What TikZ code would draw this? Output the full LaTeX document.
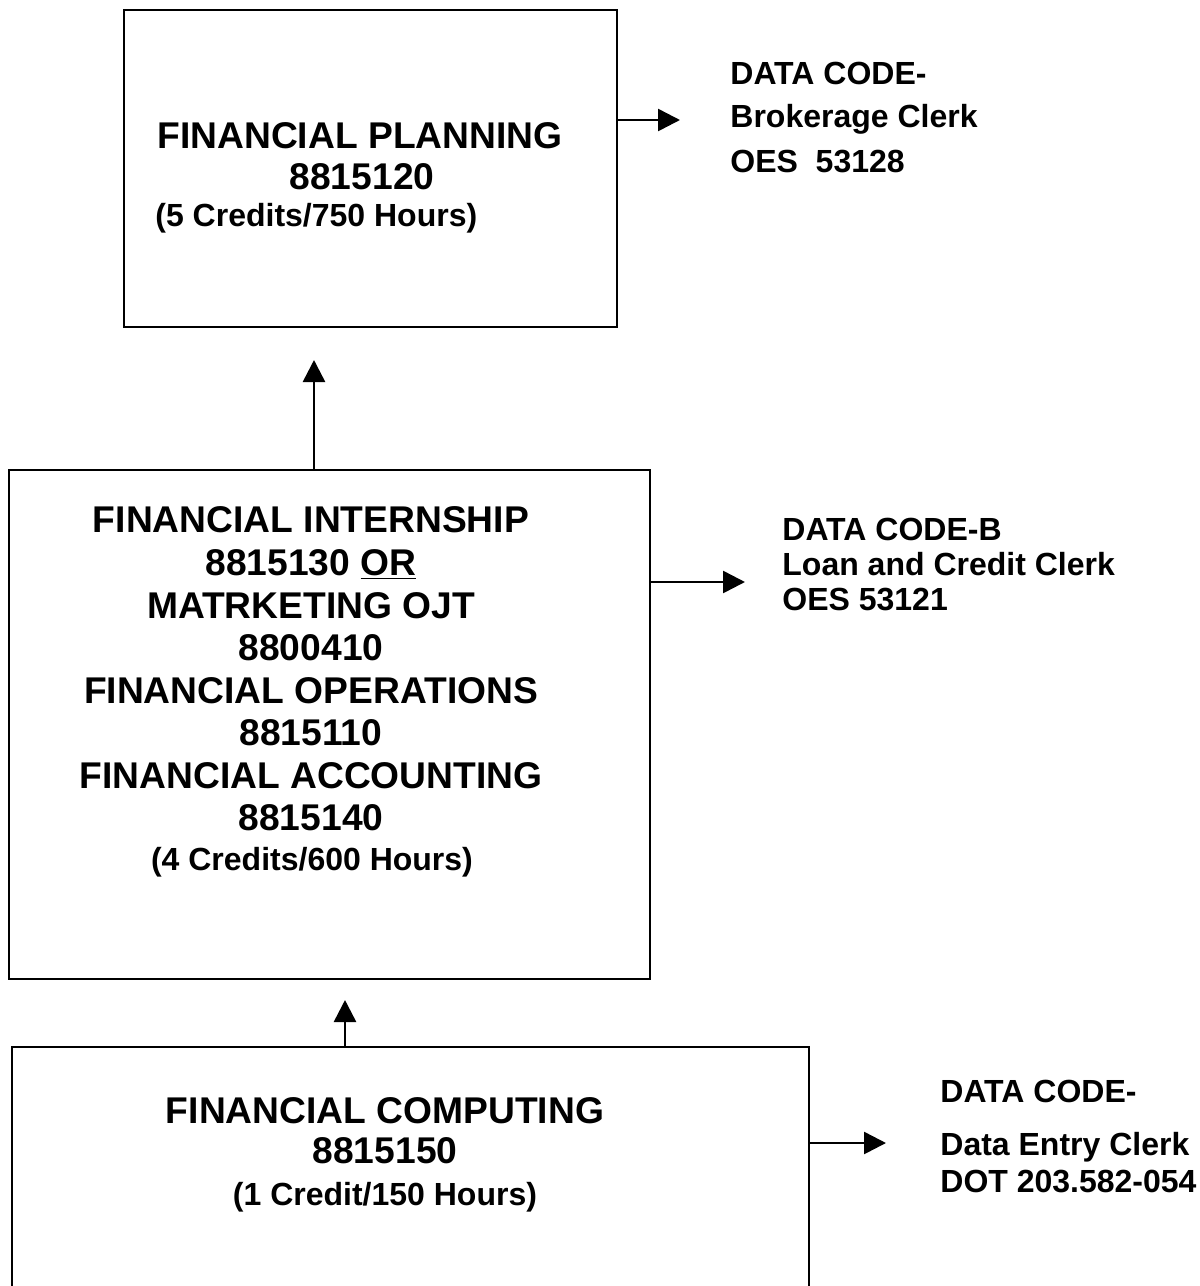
\documentclass[tikz,border=0pt]{standalone}
\usepackage{fontspec}
\setmainfont{Liberation Sans}
\usetikzlibrary{arrows.meta}

\begin{document}
\begin{tikzpicture}[x=0.5pt, y=-0.5pt,
    course/.style={draw, line width=1pt, inner sep=0pt, outer sep=0pt},
    title/.style={font=\fontsize{18.6}{21}\selectfont\bfseries, anchor=base, inner sep=0pt},
    hours/.style={font=\fontsize{16}{19}\selectfont\bfseries, anchor=base, inner sep=0pt},
    code/.style={font=\fontsize{16}{19}\selectfont\bfseries, anchor=base west, inner sep=0pt},
    flow/.style={-{Triangle[length=11pt,width=11pt]}, line width=1.3pt}]

% Page (pixel units)
\useasboundingbox (0,0) rectangle (1200,1286);
\clip (0,0) rectangle (1200,1286);
\fill[white] (0,0) rectangle (1200,1286);

% Course boxes
\node[course, minimum width=493*0.5pt, minimum height=317*0.5pt] (planbox) at (370.5,168.5) {};
\node[course, minimum width=641*0.5pt, minimum height=509*0.5pt] (intbox) at (329.5,724.5) {};
\node[course, minimum width=797*0.5pt, minimum height=283*0.5pt] (compbox) at (410.5,1188.5) {};

% Financial planning
\node[title] (plan1) at (360,148) {FINANCIAL PLANNING};
\node[title] (plan2) at (362,189) {8815120};
\node[hours, anchor=base west] (plan3) at (155,226) {(5 Credits/750 Hours)};

% Internship / operations / accounting
\foreach \t/\y [count=\i] in {FINANCIAL INTERNSHIP/532, 8815130 \underline{OR}/575,
    MATRKETING OJT/618, 8800410/660, FINANCIAL OPERATIONS/703, 8815110/745,
    FINANCIAL ACCOUNTING/788, 8815140/830} {
    \node[title] (int\i) at (311,\y) {\t};
}
\node[hours] (inthrs) at (312,870) {(4 Credits/600 Hours)};

% Financial computing
\node[title] (comp1) at (385,1123) {FINANCIAL COMPUTING};
\node[title] (comp2) at (385,1163) {8815150};
\node[hours] (comp3) at (385,1205) {(1 Credit/150 Hours)};

% Data codes
\foreach \t/\y [count=\i] in {DATA CODE-/84, Brokerage Clerk/127, OES~~53128/172} {
    \node[code] (brk\i) at (730,\y) {\t};
}
\foreach \t/\y [count=\i] in {DATA CODE-B/540, Loan and Credit Clerk/575, OES 53121/610} {
    \node[code] (loan\i) at (782,\y) {\t};
}
\foreach \t/\y [count=\i] in {DATA CODE-/1102, Data Entry Clerk/1155, DOT 203.582-054/1192} {
    \node[code] (entry\i) at (940,\y) {\t};
}

% Arrows
\coordinate (tipA) at (680,120);
\coordinate (tipB) at (745,582);
\coordinate (tipC) at (886,1143);
\coordinate (tipD) at (314,360);
\coordinate (tipE) at (345,1000);
\draw[flow] (planbox.east |- tipA) -- (tipA);
\draw[flow] (intbox.east |- tipB) -- (tipB);
\draw[flow] (compbox.east |- tipC) -- (tipC);
\draw[flow] (intbox.north -| tipD) -- (tipD);
\draw[flow] (compbox.north -| tipE) -- (tipE);

\end{tikzpicture}
\end{document}
